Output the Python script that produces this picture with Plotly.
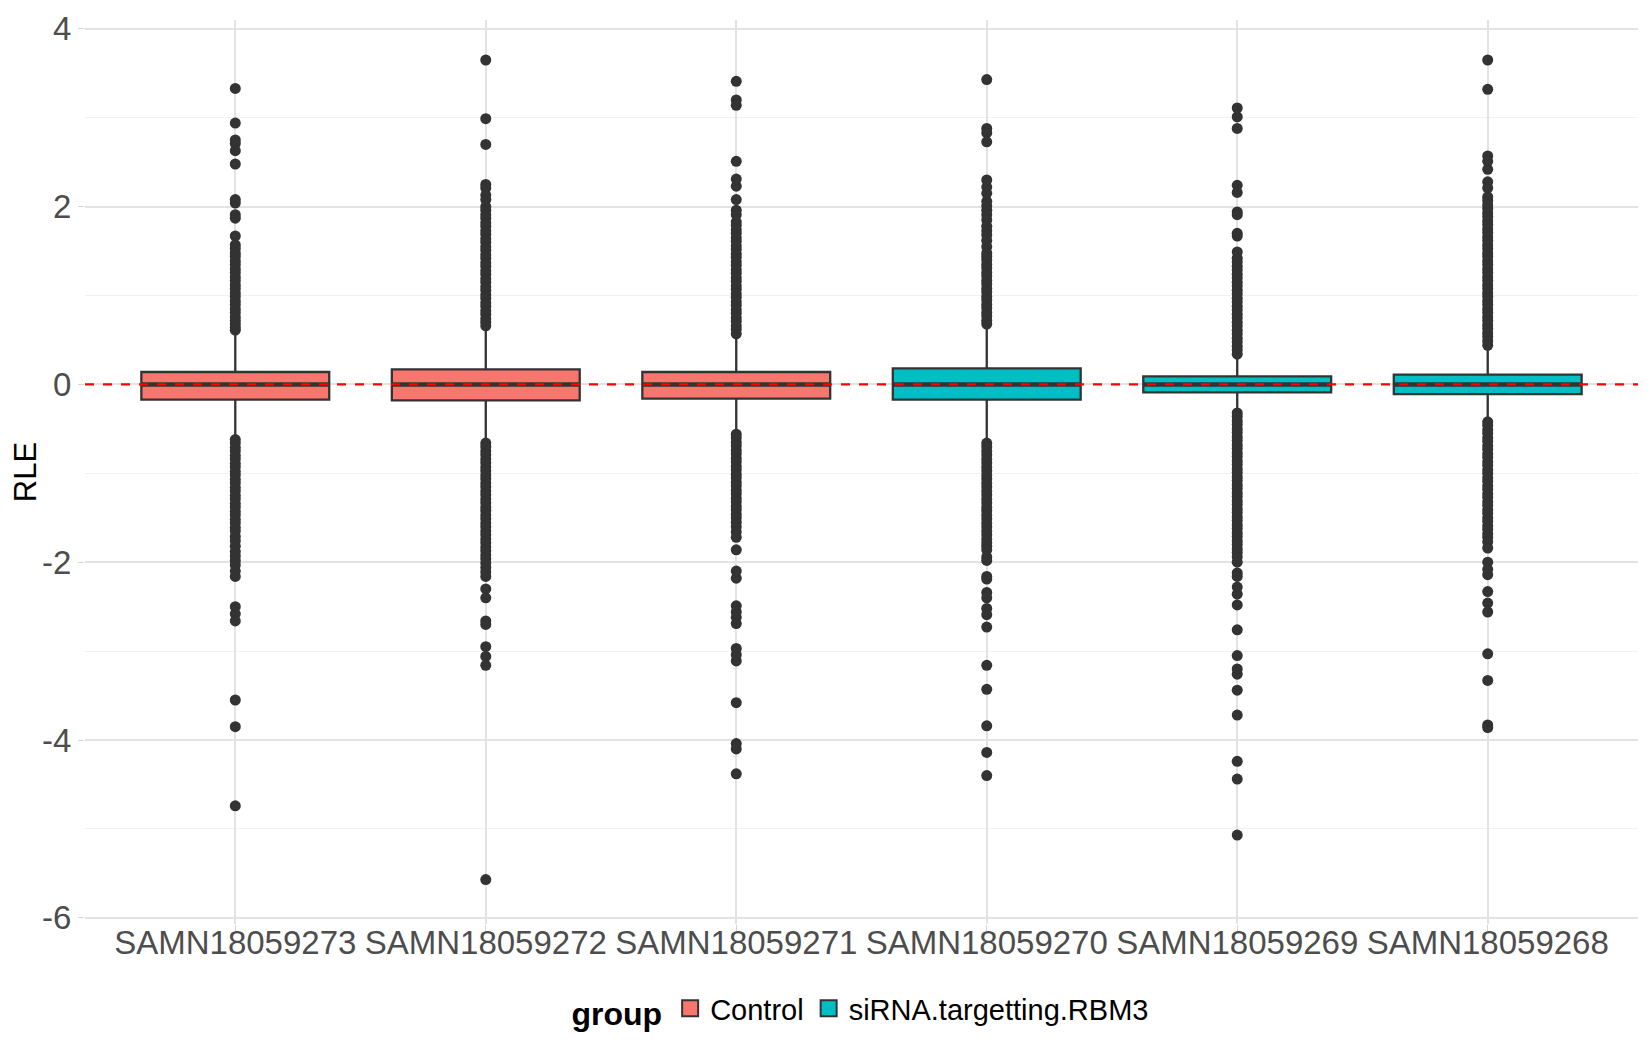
import plotly.graph_objects as go

# sample order on the x axis and group of each sample
samples = ["SAMN18059273", "SAMN18059272", "SAMN18059271",
           "SAMN18059270", "SAMN18059269", "SAMN18059268"]
groups = ["Control", "Control", "Control",
          "siRNA.targetting.RBM3", "siRNA.targetting.RBM3", "siRNA.targetting.RBM3"]

# box stats
q1 = [-0.17, -0.18, -0.16, -0.17, -0.09, -0.11]
median = [0.0, 0.0, 0.0, 0.0, 0.0, 0.0]
q3 = [0.14, 0.17, 0.14, 0.18, 0.09, 0.11]
lowerfence = [-0.60, -0.63, -0.53, -0.63, -0.30, -0.40]
upperfence = [0.58, 0.62, 0.54, 0.65, 0.32, 0.41]

# outliers (dense runs read as closely spaced points)
out_273 = [3.33, 2.94, 2.75, 2.71, 2.63, 2.48, 2.08, 2.04, 1.91, 1.87, 1.67, 1.57, 1.53, 1.48, 1.44, 1.39,
           1.35, 1.30, 1.26, 1.21, 1.17, 1.12, 1.08, 1.03, 0.99, 0.94, 0.90, 0.85, 0.81, 0.76, 0.72, 0.68,
           0.64, 0.61,
           -0.62, -0.66, -0.71, -0.75, -0.80, -0.84, -0.89, -0.93, -0.98, -1.02, -1.07, -1.11, -1.16, -1.20,
           -1.25, -1.29, -1.34, -1.38, -1.43, -1.47, -1.52, -1.56, -1.61, -1.65, -1.71, -1.76, -1.82, -1.88,
           -1.93, -1.98, -2.03, -2.10, -2.16, -2.50, -2.58, -2.66, -3.55, -3.85, -4.74]
out_272 = [3.65, 2.99, 2.70, 2.25, 2.21, 2.13, 2.08, 2.00, 1.96, 1.91, 1.87, 1.82, 1.78, 1.73, 1.69, 1.64,
           1.60, 1.55, 1.51, 1.46, 1.42, 1.37, 1.33, 1.28, 1.24, 1.19, 1.15, 1.10, 1.06, 1.01, 0.97, 0.92,
           0.88, 0.83, 0.79, 0.74, 0.70, 0.66,
           -0.66, -0.70, -0.75, -0.79, -0.84, -0.88, -0.93, -0.97, -1.02, -1.06, -1.11, -1.15, -1.20, -1.24,
           -1.29, -1.33, -1.38, -1.42, -1.47, -1.51, -1.56, -1.60, -1.65, -1.69, -1.74, -1.78, -1.83, -1.87,
           -1.92, -1.96, -2.01, -2.06, -2.11, -2.16, -2.30, -2.40, -2.66, -2.70, -2.95, -3.06, -3.16, -5.57]
out_271 = [3.41, 3.20, 3.14, 2.51, 2.31, 2.23, 2.08, 1.96, 1.91, 1.83, 1.79, 1.74, 1.70, 1.65, 1.61, 1.56,
           1.52, 1.47, 1.43, 1.38, 1.34, 1.29, 1.25, 1.20, 1.16, 1.11, 1.07, 1.02, 0.98, 0.93, 0.89, 0.84,
           0.80, 0.75, 0.71, 0.66, 0.62, 0.57,
           -0.56, -0.60, -0.65, -0.69, -0.74, -0.78, -0.83, -0.87, -0.92, -0.96, -1.01, -1.05, -1.10, -1.14,
           -1.19, -1.23, -1.28, -1.32, -1.37, -1.41, -1.46, -1.50, -1.55, -1.60, -1.66, -1.72, -1.86, -2.10,
           -2.18, -2.49, -2.56, -2.62, -2.69, -2.97, -3.04, -3.11, -3.58, -4.04, -4.10, -4.38]
out_270 = [3.43, 2.88, 2.83, 2.73, 2.30, 2.22, 2.15, 2.06, 2.01, 1.96, 1.91, 1.85, 1.78, 1.73, 1.68, 1.62,
           1.55, 1.48, 1.44, 1.40, 1.35, 1.31, 1.26, 1.22, 1.17, 1.13, 1.08, 1.04, 0.99, 0.95, 0.90, 0.86,
           0.81, 0.77, 0.72, 0.68,
           -0.66, -0.70, -0.75, -0.79, -0.84, -0.88, -0.93, -0.97, -1.02, -1.06, -1.11, -1.15, -1.20, -1.24,
           -1.29, -1.33, -1.38, -1.42, -1.47, -1.51, -1.56, -1.60, -1.65, -1.69, -1.74, -1.78, -1.82, -1.86,
           -1.94, -1.98, -2.16, -2.19, -2.34, -2.40, -2.52, -2.59, -2.73, -3.16, -3.43, -3.84, -4.14, -4.40]
out_269 = [3.11, 3.01, 2.88, 2.24, 2.16, 1.94, 1.91, 1.70, 1.67, 1.49, 1.42, 1.38, 1.33, 1.29, 1.24, 1.20,
           1.15, 1.11, 1.06, 1.02, 0.97, 0.93, 0.88, 0.84, 0.79, 0.75, 0.70, 0.66, 0.61, 0.57, 0.52, 0.48,
           0.43, 0.39, 0.34,
           -0.32, -0.36, -0.41, -0.45, -0.50, -0.54, -0.59, -0.63, -0.68, -0.72, -0.77, -0.81, -0.86, -0.90,
           -0.95, -0.99, -1.04, -1.08, -1.13, -1.17, -1.22, -1.26, -1.31, -1.35, -1.40, -1.44, -1.49, -1.53,
           -1.58, -1.62, -1.67, -1.71, -1.76, -1.80, -1.85, -1.89, -1.94, -2.00, -2.12, -2.16, -2.28, -2.36,
           -2.48, -2.76, -3.05, -3.20, -3.26, -3.44, -3.72, -4.24, -4.44, -5.07]
out_268 = [3.65, 3.32, 2.57, 2.51, 2.42, 2.28, 2.21, 2.11, 2.07, 2.02, 1.98, 1.93, 1.89, 1.84, 1.80, 1.75,
           1.71, 1.66, 1.62, 1.57, 1.53, 1.48, 1.44, 1.39, 1.35, 1.30, 1.26, 1.21, 1.17, 1.12, 1.08, 1.03,
           0.99, 0.94, 0.90, 0.85, 0.81, 0.76, 0.72, 0.67, 0.63, 0.58, 0.54, 0.49, 0.44,
           -0.42, -0.46, -0.51, -0.55, -0.60, -0.64, -0.69, -0.73, -0.78, -0.82, -0.87, -0.91, -0.96, -1.00,
           -1.05, -1.09, -1.14, -1.18, -1.23, -1.27, -1.32, -1.36, -1.41, -1.45, -1.50, -1.54, -1.59, -1.63,
           -1.68, -1.72, -1.77, -1.84, -2.00, -2.08, -2.14, -2.33, -2.46, -2.56, -3.03, -3.33, -3.83, -3.86]
outliers = [out_273, out_272, out_271, out_270, out_269, out_268]

ytick_vals = [-6, -4, -2, 0, 2, 4]
ytick_text = ["-6", "-4", "-2", "0", "2", "4"]

colors = {"Control": "#F8766D", "siRNA.targetting.RBM3": "#00BFC4"}
FONT = "Liberation Sans"

fig = go.Figure()

for g in ["Control", "siRNA.targetting.RBM3"]:
    idx = [i for i in range(len(samples)) if groups[i] == g]
    fig.add_trace(go.Box(
        name=g,
        x=[samples[i] for i in idx],
        q1=[q1[i] for i in idx],
        median=[median[i] for i in idx],
        q3=[q3[i] for i in idx],
        lowerfence=[lowerfence[i] for i in idx],
        upperfence=[upperfence[i] for i in idx],
        fillcolor=colors[g],
        line=dict(color="#333333", width=2.3),
        width=0.75,
        whiskerwidth=0,
        boxpoints=False,
        showlegend=False,
        hoverinfo="skip",
    ))

# thicker median bar (ggplot fatten), a flat box drawn at the median
fig.add_trace(go.Box(
    x=samples, q1=median, median=median, q3=median,
    lowerfence=median, upperfence=median,
    fillcolor="rgba(0,0,0,0)", line=dict(color="#333333", width=4.5),
    width=0.745, whiskerwidth=0, boxpoints=False,
    showlegend=False, hoverinfo="skip",
))

for s, vals in zip(samples, outliers):
    fig.add_trace(go.Scatter(
        x=[s] * len(vals), y=vals, mode="markers",
        marker=dict(color="#333333", size=11),
        showlegend=False, hoverinfo="skip",
    ))

# legend keys
for g in ["Control", "siRNA.targetting.RBM3"]:
    fig.add_trace(go.Scatter(
        x=[None], y=[None], mode="markers", name=g,
        marker=dict(symbol="square", size=16, color=colors[g],
                    line=dict(color="#333333", width=2)),
    ))

fig.add_hline(y=0, line=dict(color="#FF0000", dash="9px,9px", width=2.3))

# the page body adds 8px around the figure, so the figure is 16px smaller
fig.update_layout(
    width=1634, height=1034,
    paper_bgcolor="white", plot_bgcolor="white",
    boxmode="overlay",
    margin=dict(l=77, r=4, t=12, b=118, autoexpand=False),
    font=dict(family=FONT, color="#000000"),
    legend=dict(
        orientation="h", x=0.5, xanchor="center", y=-0.094, yanchor="middle",
        title=dict(text="<b>group</b>", font=dict(size=32, family=FONT, color="#000000")),
        font=dict(size=29, family=FONT, color="#000000"),
        itemwidth=30,
    ),
)

fig.update_xaxes(
    categoryorder="array", categoryarray=samples,
    range=[-0.6, 5.6], automargin=False,
    showgrid=True, gridcolor="#E3E3E3", gridwidth=1.5,
    zeroline=False, showline=False,
    ticks="outside", ticklen=6, tickcolor="#D6D6D6",
    ticklabelstandoff=-17,
    tickfont=dict(size=33, family=FONT, color="#4D4D4D"),
)

fig.update_yaxes(
    range=[-6.07, 4.10], automargin=False,
    tickvals=ytick_vals, ticktext=ytick_text,
    ticklabeloverflow="allow",
    showgrid=True, gridcolor="#E3E3E3", gridwidth=1.5,
    minor=dict(tickvals=[-5, -3, -1, 1, 3], showgrid=True, gridcolor="#F1F1F1", gridwidth=1),
    zeroline=False, showline=False,
    ticks="outside", ticklen=6, tickcolor="#D6D6D6",
    tickfont=dict(size=33, family=FONT, color="#4D4D4D"),
    title=dict(text="RLE", standoff=8, font=dict(size=31, family=FONT, color="#000000")),
)

fig.write_html("out.html")
